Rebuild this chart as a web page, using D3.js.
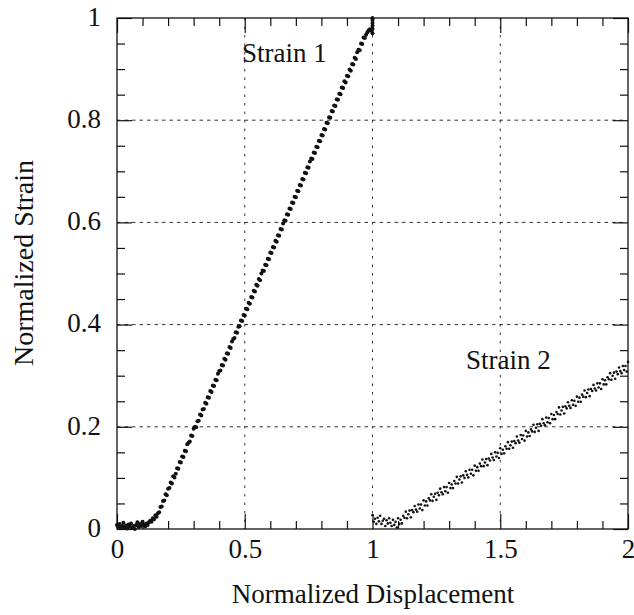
<!DOCTYPE html>
<html>
<head>
	<meta charset="utf-8">
	<title>Normalized Strain</title>
	<style type="text/css">
		body {
			margin: 0;
			background-color: #fff;
		}
		.viz {
			display: block;
			font-family: "Liberation Serif", "Times New Roman", serif;
		}
		.tick text {
			font-family: "Liberation Serif", "Times New Roman", serif;
			font-size: 27px;
			fill: #111;
		}
		.tick line {
			stroke: #111;
			stroke-width: 1.2;
		}
	</style>
</head>
<body>
	<svg class="viz" width="634" height="615"></svg>

	<script src="https://cdnjs.cloudflare.com/ajax/libs/d3/7.8.5/d3.min.js"></script>
	<script type="text/javascript">

		// tick values
		var xMajor = [0, 0.5, 1, 1.5, 2];
		var xMinor = [0.1, 0.2, 0.3, 0.4, 0.6, 0.7, 0.8, 0.9, 1.1, 1.2, 1.3, 1.4, 1.6, 1.7, 1.8, 1.9];
		var yMajor = [0, 0.2, 0.4, 0.6, 0.8, 1];
		var yMinor = [0.05, 0.1, 0.15, 0.25, 0.3, 0.35, 0.45, 0.5, 0.55, 0.65, 0.7, 0.75, 0.85, 0.9, 0.95];
		var xGrid = [0.5, 1, 1.5];
		var yGrid = [0.2, 0.4, 0.6, 0.8];

		// Strain 1 readings
		var strain1X = [
			0, .005, .01, .015, .02, .025, .03, .035, .04, .045, .05, .055, .06, .065, .07, .075, .08, .085, .09, .095,
			.1, .105, .11, .115, .12, .125, .13, .135, .14, .145, .15, .155, .16, .165, .17, .175, .18, .185, .19, .195,
			.2, .205, .21, .215, .22, .225, .23, .235, .24, .245, .25, .255, .26, .265, .27, .275, .28, .285, .29, .295,
			.3, .305, .31, .315, .32, .325, .33, .335, .34, .345, .35, .355, .36, .365, .37, .375, .38, .385, .39, .395,
			.4, .405, .41, .415, .42, .425, .43, .435, .44, .445, .45, .455, .46, .465, .47, .475, .48, .485, .49, .495,
			.5, .505, .51, .515, .52, .525, .53, .535, .54, .545, .55, .555, .56, .565, .57, .575, .58, .585, .59, .595,
			.6, .605, .61, .615, .62, .625, .63, .635, .64, .645, .65, .655, .66, .665, .67, .675, .68, .685, .69, .695,
			.7, .705, .71, .715, .72, .725, .73, .735, .74, .745, .75, .755, .76, .765, .77, .775, .78, .785, .79, .795,
			.8, .805, .81, .815, .82, .825, .83, .835, .84, .845, .85, .855, .86, .865, .87, .875, .88, .885, .89, .895,
			.9, .905, .91, .915, .92, .925, .93, .935, .94, .945, .95, .955, .96, .965, .97, .975, .98, .985, .99, .995,
			1, 1, 1, 1, 1, 1
		];
		var strain1Y = [
			.008, .004, .010, .002, .006, .012, .003, .007, .001, .009, .005, .011, .002, .006, .000, .008, .013, .004, .010, .006,
			.014, .009, .005, .011, .008, .013, .016, .014, .021, .019, .027, .024, .031, .033, .043, .044, .055, .056, .068, .066,
			.079, .080, .091, .089, .103, .101, .108, .119, .118, .131, .130, .142, .141, .153, .152, .166, .169, .171, .183, .182,
			.196, .200, .199, .211, .212, .224, .222, .234, .235, .247, .245, .258, .257, .270, .268, .281, .280, .292, .291, .304,
			.309, .310, .321, .320, .333, .331, .344, .343, .356, .354, .367, .372, .374, .385, .384, .396, .397, .408, .407, .419,
			.418, .431, .430, .443, .441, .454, .453, .466, .465, .478, .476, .489, .487, .500, .506, .505, .517, .516, .529, .528,
			.541, .540, .552, .551, .564, .562, .575, .574, .587, .586, .598, .604, .603, .616, .615, .627, .626, .639, .638, .650,
			.649, .662, .661, .673, .672, .685, .684, .697, .696, .708, .707, .719, .725, .724, .737, .736, .748, .747, .760, .759,
			.771, .770, .783, .782, .795, .794, .806, .805, .818, .817, .829, .828, .841, .840, .852, .851, .864, .863, .876, .874,
			.887, .886, .899, .897, .910, .909, .922, .920, .933, .938, .937, .950, .949, .962, .961, .967, .972, .976, .978, .975,
			.985, .970, .979, .990, .996, 1.0
		];

		// Strain 2 readings
		var strain2X = [
			1, 1.005, 1.01, 1.015, 1.02, 1.025, 1.03, 1.035, 1.04, 1.045, 1.05, 1.055, 1.06, 1.065, 1.07, 1.075, 1.08, 1.085, 1.09, 1.095,
			1.1, 1.105, 1.11, 1.115, 1.12, 1.125, 1.13, 1.135, 1.14, 1.145, 1.15, 1.155, 1.16, 1.165, 1.17, 1.175, 1.18, 1.185, 1.19, 1.195,
			1.2, 1.205, 1.21, 1.215, 1.22, 1.225, 1.23, 1.235, 1.24, 1.245, 1.25, 1.255, 1.26, 1.265, 1.27, 1.275, 1.28, 1.285, 1.29, 1.295,
			1.3, 1.305, 1.31, 1.315, 1.32, 1.325, 1.33, 1.335, 1.34, 1.345, 1.35, 1.355, 1.36, 1.365, 1.37, 1.375, 1.38, 1.385, 1.39, 1.395,
			1.4, 1.405, 1.41, 1.415, 1.42, 1.425, 1.43, 1.435, 1.44, 1.445, 1.45, 1.455, 1.46, 1.465, 1.47, 1.475, 1.48, 1.485, 1.49, 1.495,
			1.5, 1.505, 1.51, 1.515, 1.52, 1.525, 1.53, 1.535, 1.54, 1.545, 1.55, 1.555, 1.56, 1.565, 1.57, 1.575, 1.58, 1.585, 1.59, 1.595,
			1.6, 1.605, 1.61, 1.615, 1.62, 1.625, 1.63, 1.635, 1.64, 1.645, 1.65, 1.655, 1.66, 1.665, 1.67, 1.675, 1.68, 1.685, 1.69, 1.695,
			1.7, 1.705, 1.71, 1.715, 1.72, 1.725, 1.73, 1.735, 1.74, 1.745, 1.75, 1.755, 1.76, 1.765, 1.77, 1.775, 1.78, 1.785, 1.79, 1.795,
			1.8, 1.805, 1.81, 1.815, 1.82, 1.825, 1.83, 1.835, 1.84, 1.845, 1.85, 1.855, 1.86, 1.865, 1.87, 1.875, 1.88, 1.885, 1.89, 1.895,
			1.9, 1.905, 1.91, 1.915, 1.92, 1.925, 1.93, 1.935, 1.94, 1.945, 1.95, 1.955, 1.96, 1.965, 1.97, 1.975, 1.98, 1.985, 1.99, 1.995,
			2
		];
		var strain2Y = [
			.027, .014, .020, .010, .022, .015, .026, .010, .016, .020, .006, .017, .011, .021, .012, .006, .018, .008, .014, .003,
			.021, .010, .018, .011, .026, .022, .034, .021, .029, .036, .023, .037, .033, .045, .038, .034, .048, .040, .048, .037,
			.056, .046, .054, .046, .060, .056, .068, .055, .063, .069, .057, .071, .066, .079, .072, .068, .082, .074, .082, .071,
			.090, .080, .087, .080, .094, .089, .102, .089, .097, .103, .091, .105, .100, .113, .106, .101, .116, .108, .116, .105,
			.124, .114, .121, .114, .128, .123, .136, .123, .130, .137, .125, .138, .134, .147, .140, .135, .150, .142, .149, .139,
			.158, .147, .155, .148, .162, .157, .170, .157, .164, .171, .159, .172, .168, .181, .173, .169, .184, .176, .183, .173,
			.192, .181, .189, .182, .195, .191, .204, .190, .198, .205, .192, .206, .202, .215, .207, .203, .218, .209, .217, .207,
			.225, .215, .223, .215, .229, .225, .238, .224, .232, .239, .226, .240, .236, .248, .241, .237, .252, .243, .251, .241,
			.259, .249, .257, .249, .263, .259, .271, .258, .266, .273, .260, .274, .270, .282, .275, .271, .285, .277, .285, .274,
			.293, .283, .291, .283, .297, .293, .305, .292, .300, .306, .294, .308, .303, .316, .309, .305, .319, .311, .319, .308,
			.327
		];

		var svg = d3.select('.viz');
		var plotLeft = 117, plotRight = 628, plotTop = 18, plotBottom = 529;

		var x = d3.scaleLinear().domain([0, 2]).range([plotLeft, plotRight]);
		var y = d3.scaleLinear().domain([0, 1]).range([plotBottom, plotTop]);

		// grid lines
		svg.append('g').selectAll('line').data(xGrid)
			.enter().append('line')
				.attr('x1', function(d) { return x(d); })
				.attr('x2', function(d) { return x(d); })
				.attr('y1', plotTop)
				.attr('y2', plotBottom)
				.attr('stroke', '#333')
				.attr('stroke-width', 1)
				.attr('stroke-dasharray', '2.5,6');

		svg.append('g').selectAll('line').data(yGrid)
			.enter().append('line')
				.attr('x1', plotLeft)
				.attr('x2', plotRight)
				.attr('y1', function(d) { return y(d); })
				.attr('y2', function(d) { return y(d); })
				.attr('stroke', '#333')
				.attr('stroke-width', 1)
				.attr('stroke-dasharray', '3.5,4');

		// axes, ticks pointing inwards on all four sides
		var fmt = function(d) { return String(d); };

		var gBottom = svg.append('g').attr('transform', 'translate(0,' + plotBottom + ')')
			.call(d3.axisBottom(x).tickValues(xMajor).tickSize(-15).tickPadding(10).tickFormat(fmt));
		svg.append('g').attr('transform', 'translate(0,' + plotBottom + ')')
			.call(d3.axisBottom(x).tickValues(xMinor).tickSize(-8).tickFormat(''));
		svg.append('g').attr('transform', 'translate(0,' + plotTop + ')')
			.call(d3.axisTop(x).tickValues(xMajor).tickSize(-15).tickFormat(''));
		svg.append('g').attr('transform', 'translate(0,' + plotTop + ')')
			.call(d3.axisTop(x).tickValues(xMinor).tickSize(-8).tickFormat(''));

		var gLeft = svg.append('g').attr('transform', 'translate(' + plotLeft + ',0)')
			.call(d3.axisLeft(y).tickValues(yMajor).tickSize(-15).tickPadding(16).tickFormat(fmt));
		svg.append('g').attr('transform', 'translate(' + plotLeft + ',0)')
			.call(d3.axisLeft(y).tickValues(yMinor).tickSize(-8).tickFormat(''));
		svg.append('g').attr('transform', 'translate(' + plotRight + ',0)')
			.call(d3.axisRight(y).tickValues(yMajor).tickSize(-15).tickFormat(''));
		svg.append('g').attr('transform', 'translate(' + plotRight + ',0)')
			.call(d3.axisRight(y).tickValues(yMinor).tickSize(-8).tickFormat(''));

		svg.selectAll('.domain').remove();
		gBottom.selectAll('.tick text').attr('dy', '0.7em');
		gLeft.selectAll('.tick text').attr('dy', '0.27em');

		// frame
		svg.append('rect')
			.attr('x', plotLeft)
			.attr('y', plotTop)
			.attr('width', plotRight - plotLeft)
			.attr('height', plotBottom - plotTop)
			.attr('fill', 'none')
			.attr('stroke', '#111')
			.attr('stroke-width', 1.3);

		// Strain 1 points
		svg.append('g').selectAll('circle').data(strain1Y)
			.enter().append('circle')
				.attr('cx', function(d, i) { return x(strain1X[i]); })
				.attr('cy', function(d) { return y(d); })
				.attr('r', 2)
				.attr('fill', '#111');

		// Strain 2 points
		svg.append('g').selectAll('circle').data(strain2Y)
			.enter().append('circle')
				.attr('cx', function(d, i) { return x(strain2X[i]); })
				.attr('cy', function(d) { return y(d); })
				.attr('r', 1.3)
				.attr('fill', '#111');

		// labels
		svg.append('text')
			.attr('x', 242)
			.attr('y', 62)
			.attr('font-size', 27)
			.attr('fill', '#111')
			.text('Strain 1');

		svg.append('text')
			.attr('x', 466)
			.attr('y', 369)
			.attr('font-size', 27)
			.attr('fill', '#111')
			.text('Strain 2');

		svg.append('text')
			.attr('x', 373)
			.attr('y', 603)
			.attr('text-anchor', 'middle')
			.attr('font-size', 27)
			.attr('fill', '#111')
			.text('Normalized Displacement');

		svg.append('text')
			.attr('transform', 'translate(33,263) rotate(-90)')
			.attr('text-anchor', 'middle')
			.attr('font-size', 28)
			.attr('fill', '#111')
			.text('Normalized Strain');

	</script>
</body>
</html>
